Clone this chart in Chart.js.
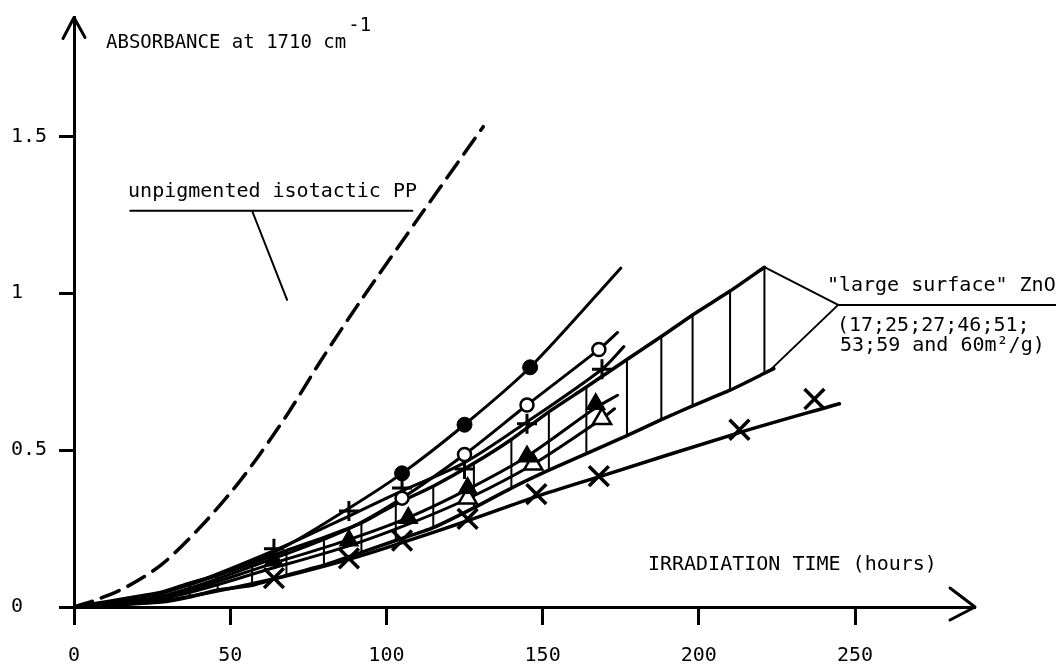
<!DOCTYPE html>
<html>
<head>
<meta charset="utf-8">
<script src="https://cdn.jsdelivr.net/npm/chart.js@4.4.1/dist/chart.umd.min.js"></script>
<style>
  html, body { margin: 0; padding: 0; background: #fff; }
</style>
</head>
<body>
<canvas id="chart" width="1056" height="666"></canvas>
<script>
// irradiation time (hours) vs absorbance at 1710 cm-1

// unpigmented isotactic PP (dashed curve)
var ppTime = [0, 8, 17, 28, 40, 51, 59, 69, 79, 91, 111, 131]
var ppAbs  = [0, 0.026, 0.065, 0.135, 0.25, 0.375, 0.48, 0.625, 0.785, 0.965, 1.25, 1.531]

// filled circles
var dotTime = [105, 125, 146]
var dotAbs  = [0.426, 0.581, 0.764]
var dotCurveTime = [0, 30, 64, 88, 105, 125, 146, 175]
var dotCurveAbs  = [0, 0.05, 0.175, 0.315, 0.426, 0.581, 0.764, 1.08]

// open circles
var ringTime = [105, 125, 145, 168]
var ringAbs  = [0.347, 0.486, 0.644, 0.821]
var ringCurveTime = [0, 30, 64, 88, 105, 125, 145, 168, 174]
var ringCurveAbs  = [0, 0.04, 0.155, 0.25, 0.347, 0.486, 0.644, 0.821, 0.875]

// plus signs
var plusTime = [64, 88, 105, 125, 145, 169]
var plusAbs  = [0.186, 0.306, 0.379, 0.44, 0.584, 0.758]
var plusCurveTime = [0, 30, 64, 88, 105, 125, 145, 169, 176]
var plusCurveAbs  = [0, 0.05, 0.18, 0.29, 0.37, 0.46, 0.59, 0.758, 0.83]

// filled triangles
var triTime = [64, 88, 107, 126, 145, 167]
var triAbs  = [0.148, 0.212, 0.284, 0.379, 0.48, 0.647]
var triCurveTime = [0, 30, 64, 88, 107, 126, 145, 167, 174]
var triCurveAbs  = [0, 0.035, 0.14, 0.215, 0.285, 0.375, 0.48, 0.635, 0.675]

// open triangles
var openTriTime = [126, 147, 169]
var openTriAbs  = [0.347, 0.455, 0.6]
var openTriCurveTime = [0, 30, 64, 88, 106, 126, 147, 169, 173]
var openTriCurveAbs  = [0, 0.03, 0.125, 0.195, 0.26, 0.345, 0.455, 0.6, 0.632]

// crosses
var crossTime = [64, 88, 105, 126, 148, 168, 213, 237]
var crossAbs  = [0.092, 0.155, 0.212, 0.281, 0.36, 0.417, 0.565, 0.663]
var crossCurveTime = [0, 30, 64, 88, 105, 126, 148, 168, 213, 245]
var crossCurveAbs  = [0, 0.022, 0.09, 0.152, 0.205, 0.275, 0.352, 0.415, 0.556, 0.648]

// "large surface" ZnO band, hatched
var hatchTime   = [28, 37, 46, 57, 68, 80, 92, 103, 115, 128, 140, 152, 164, 177, 188, 198, 210, 221]
var hatchTop    = [0.047, 0.076, 0.101, 0.139, 0.18, 0.221, 0.268, 0.328, 0.385, 0.458, 0.534, 0.622, 0.701, 0.789, 0.862, 0.931, 1.007, 1.083]
var hatchBottom = [0.016, 0.032, 0.054, 0.069, 0.101, 0.133, 0.174, 0.212, 0.253, 0.316, 0.379, 0.436, 0.489, 0.546, 0.597, 0.641, 0.691, 0.745]
var bandBottomEnd = [224, 0.76]

// axes
var xTicks = [0, 50, 100, 150, 200, 250]
var xTickText = ['0', '50', '100', '150', '200', '250']
var yTicks = [0, 0.5, 1, 1.5]
var yTickText = ['0', '0.5', '1', '1.5']

var FONT = '"DejaVu Sans Mono", "Liberation Mono", monospace'

function pts(xs, ys) {
    return xs.map(function(x, i){ return { x: x, y: ys[i] } })
}

function markers(xs, ys, style, radius, fill, width) {
    return {
        data: pts(xs, ys),
        showLine: false,
        pointStyle: style,
        pointRadius: radius,
        pointHoverRadius: radius,
        pointBorderWidth: width,
        pointBorderColor: '#000',
        pointBackgroundColor: fill
    }
}

function curve(xs, ys, width, dash, tension) {
    return {
        data: pts(xs, ys),
        showLine: true,
        borderColor: '#000',
        borderWidth: width,
        borderDash: dash || [],
        borderCapStyle: 'round',
        borderJoinStyle: 'round',
        pointRadius: 0,
        pointHoverRadius: 0,
        tension: tension === undefined ? 0.3 : tension,
        fill: false
    }
}

var datasets = [
    markers(dotTime, dotAbs, 'circle', 7.5, '#000', 1),
    markers(ringTime, ringAbs, 'circle', 6.5, '#fff', 2.5),
    markers(plusTime, plusAbs, 'cross', 10, '#000', 3),
    markers(triTime, triAbs, 'triangle', 10.5, '#000', 1.5),
    markers(openTriTime, openTriAbs, 'triangle', 10.5, '#fff', 2.5),
    markers(crossTime, crossAbs, 'crossRot', 14, '#000', 3.5),
    curve(ppTime, ppAbs, 3.5, [19, 10]),
    curve(dotCurveTime, dotCurveAbs, 3),
    curve(ringCurveTime, ringCurveAbs, 3),
    curve(plusCurveTime, plusCurveAbs, 3),
    curve(triCurveTime, triCurveAbs, 3),
    curve(openTriCurveTime, openTriCurveAbs, 3),
    curve(crossCurveTime, crossCurveAbs, 3.5),
    curve([0].concat(hatchTime), [0].concat(hatchTop), 3.5, null, 0.2),
    curve([0].concat(hatchTime, [bandBottomEnd[0]]), [0].concat(hatchBottom, [bandBottomEnd[1]]), 3.5, null, 0.2)
]

hatchTime.forEach(function(t, i){
    datasets.push(curve([t, t], [hatchBottom[i], hatchTop[i]], 2, null, 0))
})

// arrows, axis titles and the two call-outs
var decorations = {
    id: 'decorations',
    afterDraw: function(chart){
        var ctx = chart.ctx
        var a = chart.chartArea
        var xs = chart.scales.x, ys = chart.scales.y
        function px(v){ return xs.getPixelForValue(v) }
        function py(v){ return ys.getPixelForValue(v) }
        var last = hatchTime.length - 1

        ctx.save()
        ctx.strokeStyle = '#000'
        ctx.fillStyle = '#000'
        ctx.lineCap = 'round'
        ctx.lineJoin = 'round'

        ctx.lineWidth = 3
        ctx.beginPath()
        ctx.moveTo(a.left - 11, a.top + 21)
        ctx.lineTo(a.left, a.top)
        ctx.lineTo(a.left + 11, a.top + 20)
        ctx.moveTo(a.right - 25, a.bottom - 19)
        ctx.lineTo(a.right, a.bottom)
        ctx.lineTo(a.right - 25, a.bottom + 13)
        ctx.stroke()

        ctx.textBaseline = 'middle'
        ctx.textAlign = 'left'
        ctx.font = '19px ' + FONT
        var t1 = 'ABSORBANCE at 1710 cm'
        ctx.fillText(t1, 106, 43)
        var w1 = ctx.measureText(t1).width
        ctx.fillText('-1', 106 + w1 + 2, 26)

        ctx.font = '20px ' + FONT
        ctx.fillText('IRRADIATION TIME (hours)', px(183.7), py(0.136))

        // unpigmented PP call-out
        ctx.fillText('unpigmented isotactic PP', px(17.3), py(1.323))
        ctx.lineWidth = 2
        ctx.beginPath()
        ctx.moveTo(px(18), py(1.263))
        ctx.lineTo(px(108.3), py(1.263))
        ctx.moveTo(px(57), py(1.263))
        ctx.lineTo(px(68.2), py(0.979))
        ctx.stroke()

        // ZnO call-out
        ctx.beginPath()
        ctx.moveTo(px(hatchTime[last]), py(hatchTop[last]))
        ctx.lineTo(px(244.6), py(0.963))
        ctx.lineTo(px(222.8), py(0.755))
        ctx.moveTo(px(244.6), py(0.963))
        ctx.lineTo(chart.width, py(0.963))
        ctx.stroke()
        ctx.fillText('"large surface" ZnO', px(241), py(1.023))
        ctx.fillText('(17;25;27;46;51;', px(244.2), py(0.897))
        ctx.fillText('53;59 and 60m\u00b2/g)', px(245.2), py(0.834))
        ctx.restore()
    }
}

new Chart(document.getElementById('chart'), {
    type: 'line',
    data: { datasets: datasets },
    plugins: [decorations],
    options: {
        responsive: false,
        animation: false,
        events: [],
        layout: { padding: { left: 11, right: 81, top: 12, bottom: 0 } },
        plugins: {
            legend: { display: false },
            tooltip: { enabled: false }
        },
        scales: {
            x: {
                type: 'linear',
                min: 0,
                max: 288.4,
                afterBuildTicks: function(scale){
                    scale.ticks = xTicks.map(function(v){ return { value: v } })
                },
                afterFit: function(scale){ scale.height = 59 },
                ticks: {
                    color: '#000',
                    font: { family: FONT, size: 20 },
                    padding: 19,
                    maxRotation: 0,
                    autoSkip: false,
                    callback: function(v, i){ return xTickText[i] }
                },
                grid: {
                    drawOnChartArea: false,
                    tickLength: 18,
                    tickWidth: 3,
                    color: '#000',
                    tickColor: '#000'
                },
                border: { display: true, color: '#000', width: 3 }
            },
            y: {
                type: 'linear',
                min: 0,
                max: 1.879,
                afterBuildTicks: function(scale){
                    scale.ticks = yTicks.map(function(v){ return { value: v } })
                },
                afterFit: function(scale){ scale.width = 63 },
                ticks: {
                    color: '#000',
                    font: { family: FONT, size: 20 },
                    crossAlign: 'far',
                    padding: 0,
                    autoSkip: false,
                    callback: function(v, i){ return yTickText[i] }
                },
                grid: {
                    drawOnChartArea: false,
                    tickLength: 15,
                    tickWidth: 3,
                    color: '#000',
                    tickColor: '#000'
                },
                border: { display: true, color: '#000', width: 3 }
            }
        }
    }
})
</script>
</body>
</html>
